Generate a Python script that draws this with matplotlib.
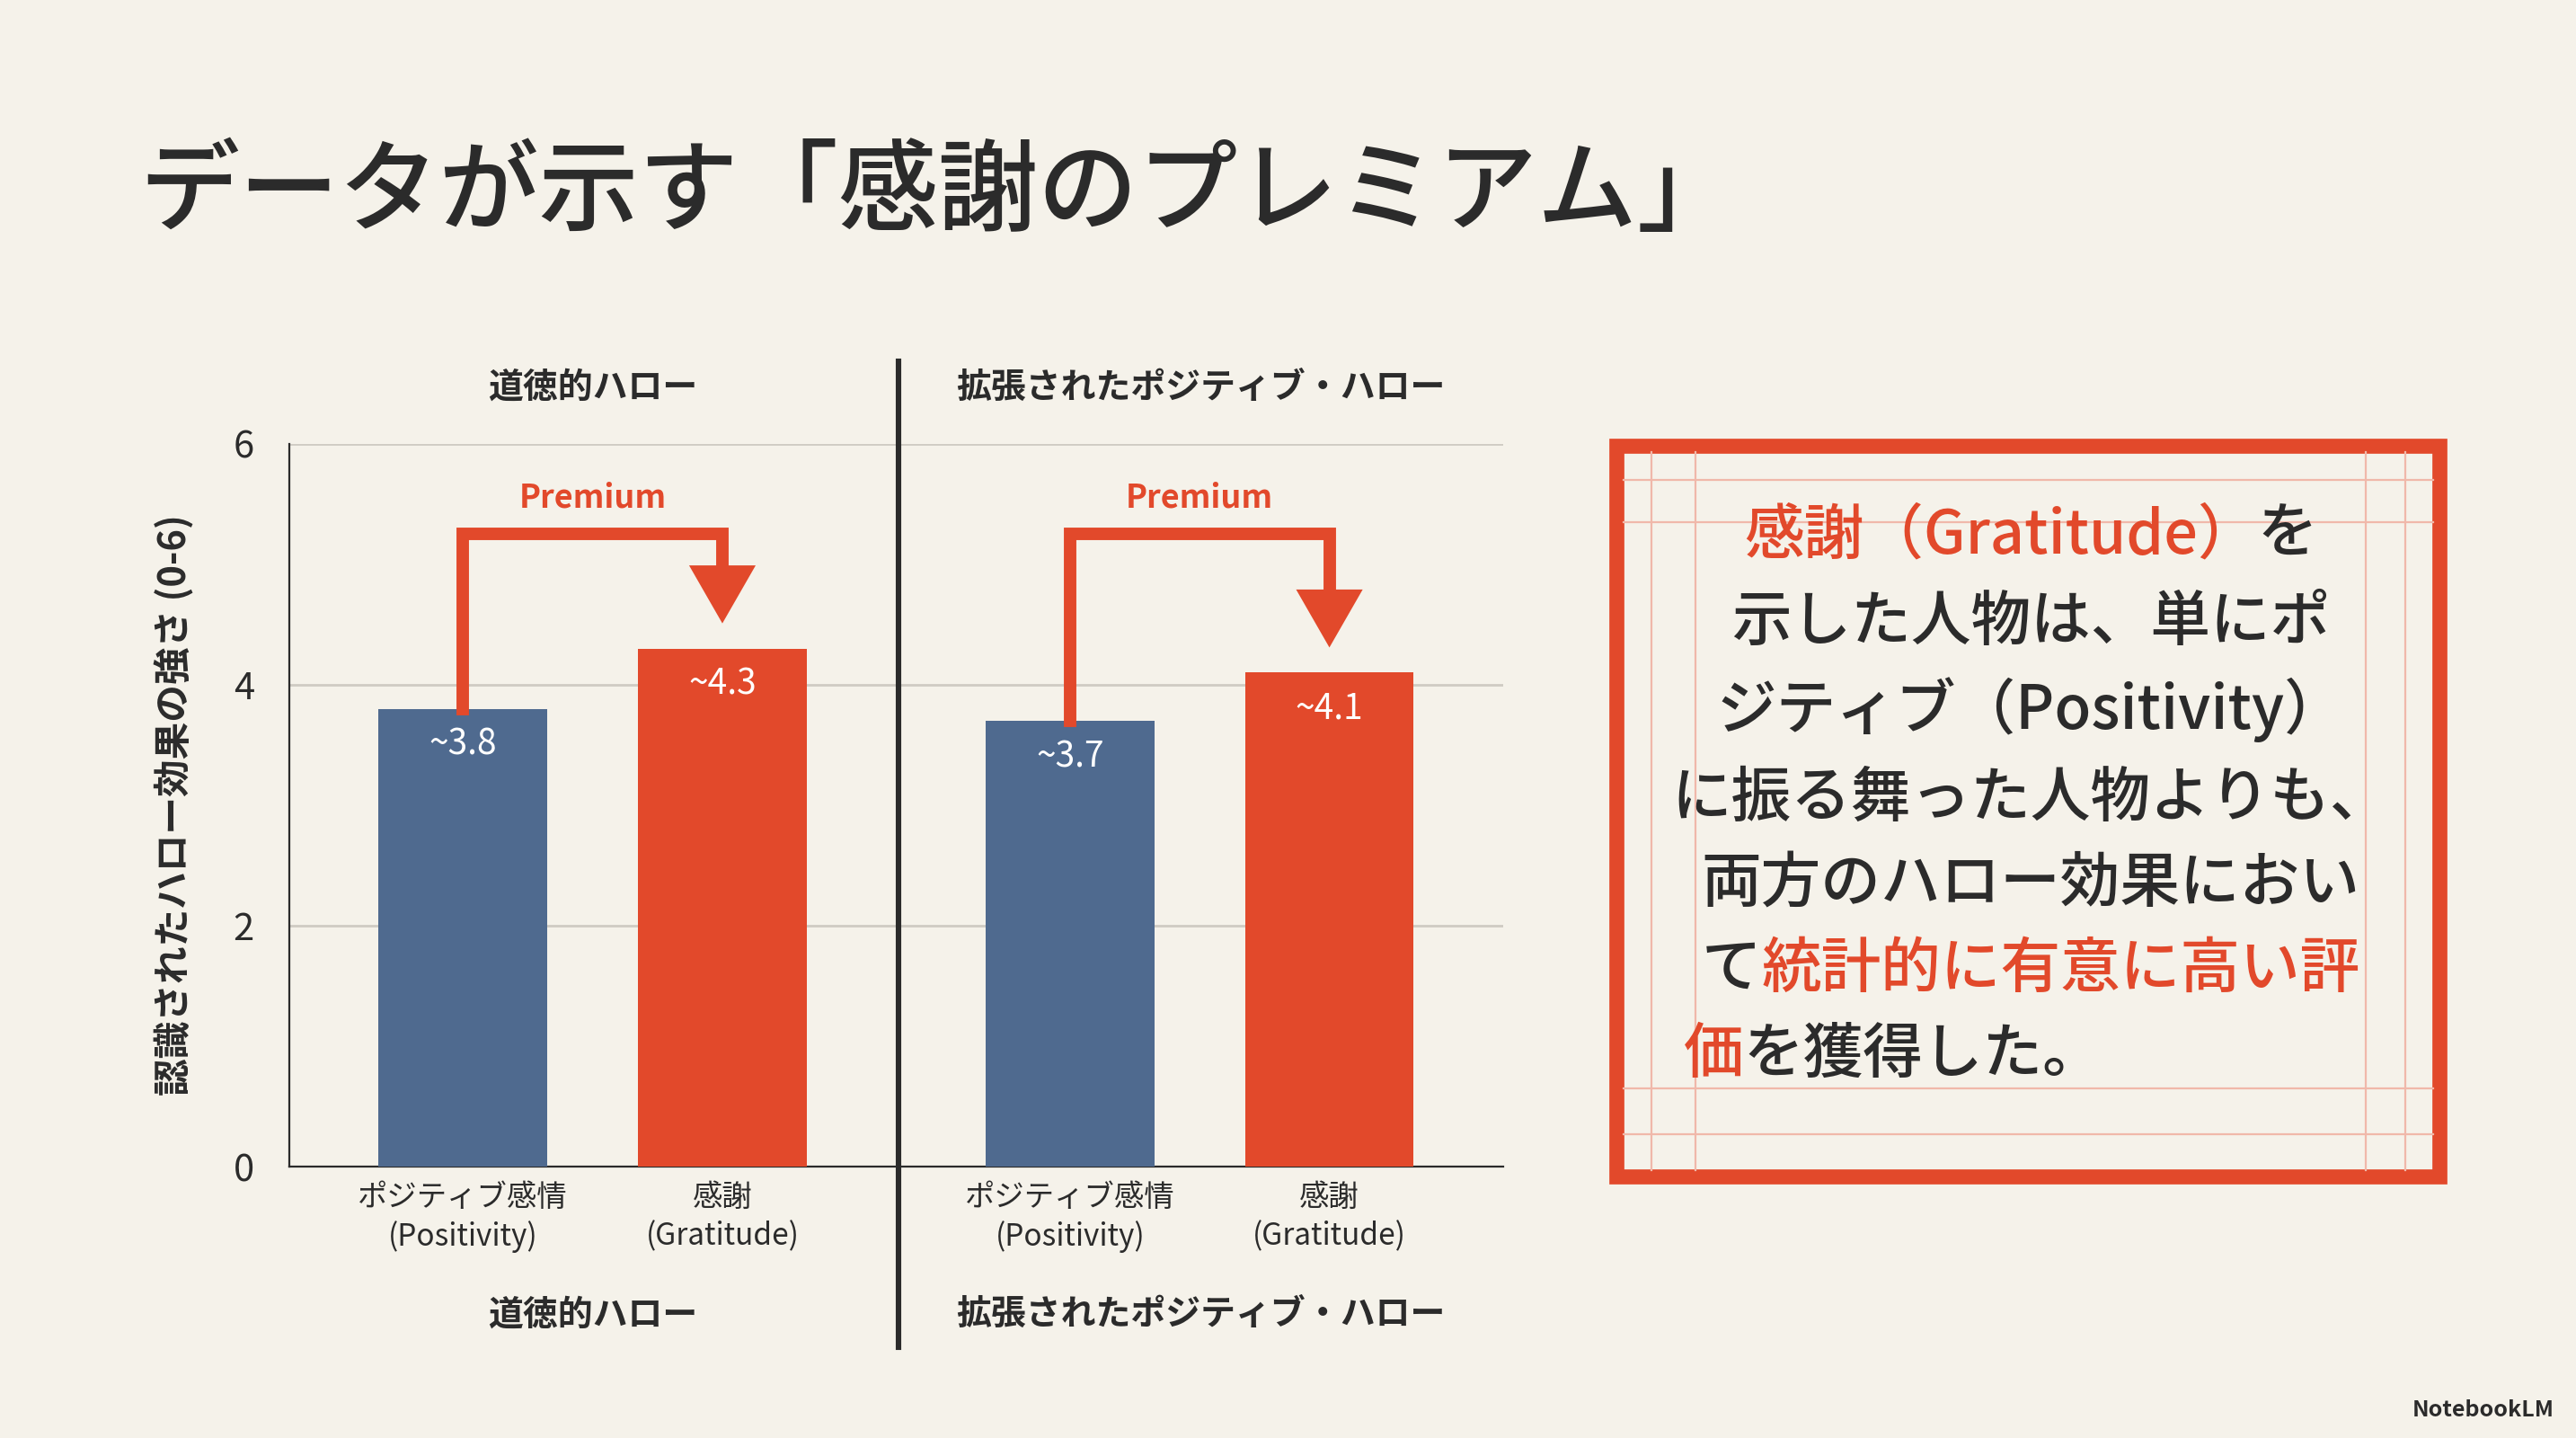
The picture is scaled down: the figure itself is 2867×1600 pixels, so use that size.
import matplotlib.pyplot as plt
from matplotlib.patches import Rectangle, Polygon
from matplotlib.lines import Line2D

plt.rcParams['font.family'] = ['Noto Sans CJK JP', 'DejaVu Sans']

W, H = 1568, 875  # layout units (reference pixels)
BG = '#f5f2ea'
BLUE = '#4f6a8f'
RED = '#e2492b'
DARK = '#2b2b2b'

groups = ['道徳的ハロー', '拡張されたポジティブ・ハロー']
cats = ['ポジティブ感情\n(Positivity)', '感謝\n(Gratitude)']
values = [[3.8, 4.3], [3.7, 4.1]]
value_labels = [['~3.8', '~4.3'], ['~3.7', '~4.1']]

fig = plt.figure(figsize=(14.335, 8), dpi=200, facecolor=BG)

def fx(x):
    return x / W

def fy(y):
    return 1 - y / H

fig.text(fx(85), fy(118), 'データが示す「感謝のプレミアム」', fontsize=40, color=DARK,
         va='center', ha='left', fontweight='medium')

ax = fig.add_axes([fx(176), fy(710), (915 - 176) / W, 440 / H])
ax.set_facecolor(BG)
pos = [[0, 1], [2.34, 3.34]]
for g in range(2):
    for i in range(2):
        x = pos[g][i]
        ax.bar(x, values[g][i], width=0.65, color=[BLUE, RED][i], zorder=3)
        ax.text(x, values[g][i] - 0.3, value_labels[g][i], color='white', ha='center',
                va='center', fontsize=14, zorder=4)
    # premium arrow
    x0, x1 = pos[g]
    top = 5.25
    tip = values[g][1] + 0.23
    hw, hl = 0.12, 0.45
    ax.plot([x0, x0, x1, x1], [values[g][0], top, top, tip + hl], color=RED, lw=5,
            solid_joinstyle='miter', zorder=5)
    ax.add_patch(Polygon([[x1 - hw, tip + hl], [x1 + hw, tip + hl], [x1, tip]],
                         closed=True, color=RED, zorder=5))
    ax.text((x0 + x1) / 2, 5.55, 'Premium', color=RED, ha='center', va='center',
            fontsize=13, fontweight='bold')
ax.set_xlim(-0.67, 4.01)
ax.set_ylim(0, 6)
ax.set_yticks([0, 2, 4, 6])
ax.set_xticks([p for g in pos for p in g])
ax.set_xticklabels(cats * 2, fontsize=12, color=DARK, linespacing=1.3)
ax.tick_params(axis='y', labelsize=15, colors=DARK, length=0, pad=14)
ax.tick_params(axis='x', length=0, pad=6)
ax.grid(axis='y', color='#cfcbc3', lw=1, zorder=0)
for s in ['top', 'right']:
    ax.spines[s].set_visible(False)
ax.spines['left'].set_color(DARK)
ax.spines['bottom'].set_color(DARK)
ax.set_ylabel('認識されたハロー効果の強さ (0-6)', fontsize=15, fontweight='bold', color=DARK,
              labelpad=16)

fig.add_artist(Line2D([fx(547), fx(547)], [fy(220), fy(820)], color=DARK, lw=2.2))
for cx, name in zip([361, 731], groups):
    fig.text(fx(cx), fy(236), name, fontsize=14, fontweight='bold', color=DARK,
             ha='center', va='center')
    fig.text(fx(cx), fy(800), name, fontsize=14, fontweight='bold', color=DARK,
             ha='center', va='center')

# text box
fig.add_artist(Rectangle((fx(984), fy(716)), (1485 - 984) / W, (716 - 271) / H,
                         fill=False, edgecolor=RED, lw=6))
for xx in [1005, 1032, 1440, 1464]:
    fig.add_artist(Line2D([fx(xx), fx(xx)], [fy(275), fy(712)], color='#f0b8aa', lw=0.8))
for yy in [292, 318, 662, 690]:
    fig.add_artist(Line2D([fx(988), fx(1481)], [fy(yy), fy(yy)], color='#f0b8aa', lw=0.8))

lines = [
    ([('感謝（Gratitude）', RED), ('を', DARK)], 326, 'center'),
    ([('示した人物は、単にポ', DARK)], 379, 'center'),
    ([('ジティブ（Positivity）', DARK)], 432, 'center'),
    ([('に振る舞った人物よりも、', DARK)], 486, 'center'),
    ([('両方のハロー効果におい', DARK)], 538, 'center'),
    ([('て', DARK), ('統計的に有意に高い評', RED)], 590, 'center'),
    ([('価', RED), ('を獲得した。', DARK)], 642, 'left'),
]
fig.canvas.draw()
r = fig.canvas.get_renderer()
for segs, y, align in lines:
    arts = [fig.text(0, fy(y), s, color=c, fontsize=24, va='center', ha='left',
                     fontweight='medium') for s, c in segs]
    widths = [a.get_window_extent(r).width / fig.bbox.width for a in arts]
    x = fx(1025) if align == 'left' else fx(1236) - sum(widths) / 2
    for a, w in zip(arts, widths):
        a.set_x(x)
        x += w

fig.text(fx(1555), fy(858), 'NotebookLM', fontsize=9, color=DARK, ha='right', va='center',
         fontweight='bold')

fig.savefig('out.png', dpi=200, facecolor=BG)
